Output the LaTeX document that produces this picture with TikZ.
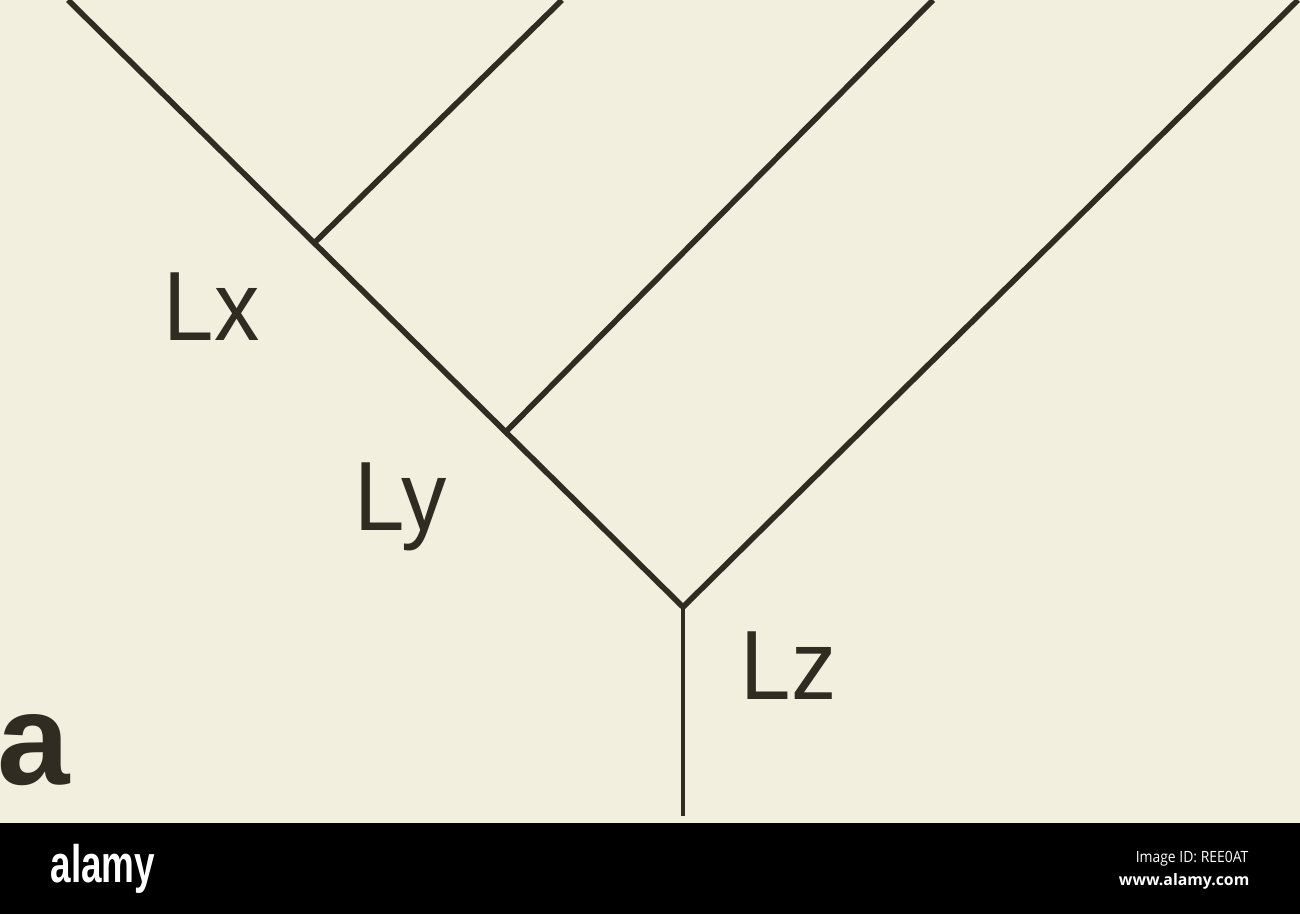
\documentclass[tikz,border=0pt]{standalone}
\usepackage{fontspec}
\setmainfont{Liberation Sans}
\newfontfamily\stampfont{Open Sans}
\usepackage{xcolor}
\usetikzlibrary{
  positioning,
  calc
}
\definecolor{paper}{RGB}{243,239,222}
\definecolor{ink}{RGB}{48,44,34}

\begin{document}
\begin{tikzpicture}[x=0.01cm, y=-0.01cm,
    branch/.style={draw=ink, line width=1.6pt},
    stem/.style={draw=ink, line width=1.2pt},
    lbl/.style={anchor=base west, inner sep=0pt, text=ink,
      font=\fontsize{28}{30}\selectfont, xscale=0.92}]
      % Page and bottom band
      \useasboundingbox (0,0) rectangle (1300,914);
      \fill[paper] (0,0) rectangle (1300,823);
      \fill[black] (0,823) rectangle (1300,914);

      % Tree points
      \coordinate (tipA) at (68,0);
      \coordinate (root) at (683,607);
      \coordinate (j1) at ($(tipA)!0.4003!(root)$);
      \coordinate (j2) at ($(tipA)!0.7117!(root)$);
      \coordinate (tipB) at (562,0);
      \coordinate (tipC) at (933,0);
      \coordinate (tipD) at (1298,0);
      \coordinate (foot) at (683,816);

      % Branches
      \draw[branch] (tipA) -- (root);
      \draw[branch] (j1) -- (tipB);
      \draw[branch] (j2) -- (tipC);
      \draw[branch] (root) -- (tipD);
      \draw[stem] (root) -- (foot);

      % Labels
      \node[lbl] (lx) at (163,340) {Lx};
      \node[lbl] (ly) at (354,530) {Ly};
      \node[lbl] (lz) at (740,699) {Lz};
      \node[anchor=base west, inner sep=0pt, text=ink,
        font=\fontsize{37}{40}\selectfont\bfseries] (panel) at (-3,784) {a};

      % Band texts
      \node[anchor=base west, inner sep=0pt, text=white, xscale=0.7,
        font=\fontsize{15}{16}\selectfont\bfseries] (logo) at (50,882) {alamy};
      \node[anchor=base east, inner sep=0pt, text=white, xscale=0.9,
        font=\stampfont\fontsize{4.4}{5}\selectfont] (imgid) at (1249,862) {Image ID: REE0AT};
      \node[anchor=base east, inner sep=0pt, text=white,
        font=\stampfont\fontsize{4.5}{5}\selectfont\bfseries] (site) at (1250,885) {www.alamy.com};
    \end{tikzpicture}
\end{document}
